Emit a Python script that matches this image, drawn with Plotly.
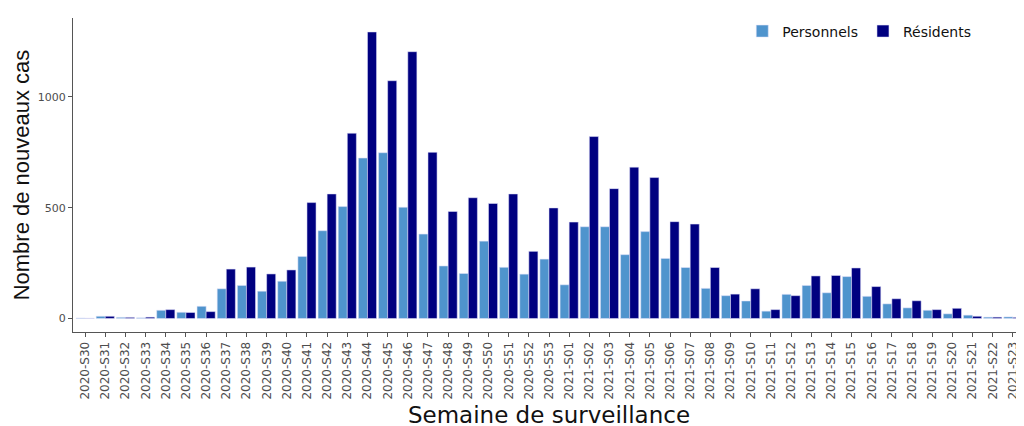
import plotly.graph_objects as go

weeks = [f"2020-S{w:02d}" for w in range(30, 54)] + [f"2021-S{w:02d}" for w in range(1, 24)]

personnels = [2, 10, 5, 3, 37, 28, 55, 134, 149, 123, 168, 280, 396, 505, 724, 748, 502, 381,
              237, 203, 349, 231, 200, 268, 152, 414, 414, 288, 392, 271, 230, 136, 103, 79,
              33, 109, 149, 116, 189, 100, 66, 48, 37, 21, 15, 6, 7]
residents = [1, 10, 5, 6, 40, 27, 31, 223, 232, 201, 219, 523, 562, 836, 1293, 1073, 1204, 750,
             483, 545, 519, 562, 303, 499, 435, 821, 586, 683, 636, 437, 426, 230, 110, 134,
             40, 103, 192, 194, 228, 144, 89, 80, 40, 46, 10, 6, 5]

fig = go.Figure()
fig.add_trace(go.Bar(x=weeks, y=personnels, name="Personnels",
                     marker=dict(color="#4F94CD", line=dict(color="rgba(225,225,250,0.9)", width=0.6))))
fig.add_trace(go.Bar(x=weeks, y=residents, name="Résidents",
                     marker=dict(color="#000080", line=dict(color="rgba(225,225,250,0.9)", width=0.6))))

fig.update_layout(
    width=1024, height=426,
    margin=dict(l=65, r=7, t=7, b=102),
    plot_bgcolor="white", paper_bgcolor="white",
    barmode="group", bargap=0.1, bargroupgap=0,
    font=dict(family="DejaVu Sans", color="#333"),
    legend=dict(orientation="h", x=0.703, y=1.008, xanchor="left", yanchor="top",
                font=dict(size=14, color="#111"), bgcolor="rgba(0,0,0,0)"),
    xaxis=dict(range=[-0.6, 46.6], tickangle=-90, tickfont=dict(size=12, color="#4d4d4d"),
               showline=True, linecolor="#555", linewidth=1, ticks="outside", ticklen=4,
               tickcolor="#555", showgrid=False, zeroline=False, automargin=False,
               title=dict(text="Semaine de surveillance", font=dict(size=23, color="#111"), standoff=8)),
    yaxis=dict(range=[-61, 1356], tickvals=[0, 500, 1000], tickfont=dict(size=11, color="#4d4d4d"),
               showline=True, linecolor="#555", linewidth=1, ticks="outside", ticklen=4,
               tickcolor="#555", showgrid=False, zeroline=False, automargin=False,
               title=dict(text="Nombre de nouveaux cas", font=dict(family="Liberation Sans", size=22, color="#111"), standoff=2)),
)

fig.write_html("out.html")
